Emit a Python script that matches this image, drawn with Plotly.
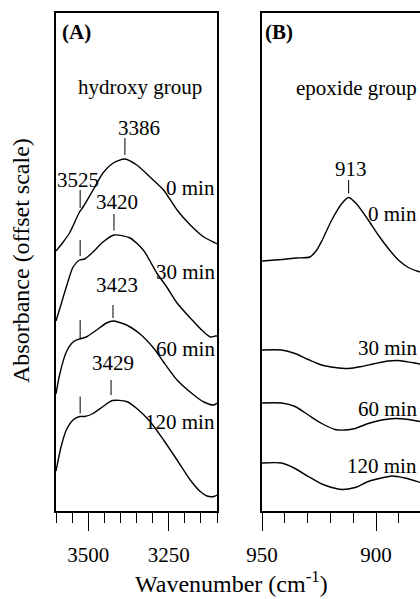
import plotly.graph_objects as go

FONT = "Liberation Serif, Times New Roman, serif"

# ---------------- Panel A : hydroxy group (offset absorbance, a.u.) ----------------
wn_a_0 = [3600, 3580, 3558, 3527, 3516, 3485, 3454, 3422, 3386, 3349, 3308, 3266, 3224, 3183, 3141, 3105, 3100]
abs_a_0 = [5.20, 5.36, 5.56, 5.98, 6.08, 6.42, 6.76, 6.96, 7.04, 6.92, 6.68, 6.42, 6.02, 5.72, 5.48, 5.36, 5.34]

wn_a_30 = [3600, 3583, 3568, 3547, 3527, 3511, 3485, 3454, 3420, 3370, 3329, 3308, 3287, 3256, 3224, 3183, 3141, 3120, 3105, 3100]
abs_a_30 = [3.80, 4.16, 4.48, 4.88, 5.02, 5.04, 5.18, 5.38, 5.52, 5.46, 5.22, 5.00, 4.76, 4.48, 4.16, 3.86, 3.58, 3.48, 3.50, 3.50]

wn_a_60 = [3600, 3589, 3568, 3547, 3527, 3506, 3474, 3443, 3423, 3381, 3339, 3297, 3266, 3224, 3172, 3141, 3110, 3100]
abs_a_60 = [2.34, 2.72, 3.18, 3.38, 3.44, 3.48, 3.62, 3.76, 3.80, 3.72, 3.54, 3.26, 2.98, 2.62, 2.32, 2.18, 2.12, 2.16]

wn_a_120 = [3600, 3584, 3568, 3547, 3527, 3511, 3485, 3454, 3425, 3381, 3349, 3308, 3266, 3224, 3183, 3152, 3131, 3110, 3100]
abs_a_120 = [0.80, 1.29, 1.62, 1.82, 1.89, 1.89, 1.95, 2.09, 2.21, 2.19, 2.05, 1.79, 1.42, 1.02, 0.62, 0.39, 0.30, 0.29, 0.32]

# ---------------- Panel B : epoxide group ----------------
wn_b_0 = [950, 941.4, 935, 929, 926, 923.8, 919.4, 915, 912, 908.5, 903.4, 899, 894.6, 890.2, 885.8, 881.4, 880.5]
abs_b_0 = [5.00, 5.03, 5.06, 5.08, 5.22, 5.40, 5.82, 6.15, 6.27, 6.14, 5.82, 5.52, 5.25, 5.02, 4.87, 4.79, 4.78]

wn_b_30 = [950, 941.4, 935.5, 929.7, 923.8, 918, 912.1, 906.3, 900.4, 894.6, 890.2, 884.3, 880.5]
abs_b_30 = [3.22, 3.22, 3.15, 3.03, 2.92, 2.87, 2.85, 2.89, 2.95, 3.00, 3.01, 2.97, 2.94]

wn_b_60 = [950, 941.4, 935.5, 929.7, 923.8, 918, 913.6, 909.2, 903.4, 897.5, 891.7, 885.8, 880.5]
abs_b_60 = [2.16, 2.16, 2.09, 1.92, 1.75, 1.63, 1.62, 1.65, 1.75, 1.82, 1.85, 1.83, 1.79]

wn_b_120 = [950, 941.4, 935.5, 929.7, 923.8, 919.4, 915, 909.2, 903.4, 897.5, 893.1, 887.3, 880.5]
abs_b_120 = [0.96, 0.96, 0.85, 0.69, 0.54, 0.47, 0.43, 0.47, 0.59, 0.66, 0.70, 0.66, 0.57]

time_labels = ["0 min", "30 min", "60 min", "120 min"]

# peak markers
peaks_a = [3386, 3420, 3423, 3429]
shoulder_a = 3525
peak_b = 913

fig = go.Figure()

line = dict(color="black", width=1.4, shape="spline", smoothing=0.7)
for wn, ab in [(wn_a_0, abs_a_0), (wn_a_30, abs_a_30), (wn_a_60, abs_a_60), (wn_a_120, abs_a_120)]:
    fig.add_trace(go.Scatter(x=wn, y=ab, mode="lines", line=line, xaxis="x", yaxis="y",
                             hoverinfo="skip", showlegend=False))
for wn, ab in [(wn_b_0, abs_b_0), (wn_b_30, abs_b_30), (wn_b_60, abs_b_60), (wn_b_120, abs_b_120)]:
    fig.add_trace(go.Scatter(x=wn, y=ab, mode="lines", line=line, xaxis="x2", yaxis="y2",
                             hoverinfo="skip", showlegend=False))

# marker ticks above peaks (vertical extents are layout positions)
tick_a_peak_y = [(7.12, 7.46), (5.61, 5.94), (3.86, 4.12), (2.32, 2.62)]
tick_a_sh_y = [(6.06, 6.42), (5.10, 5.42), (3.46, 3.82), (1.95, 2.29)]
shapes = []
for p, (y0, y1) in zip(peaks_a, tick_a_peak_y):
    shapes.append(dict(type="line", xref="x", yref="y", x0=p, x1=p, y0=y0, y1=y1,
                       line=dict(color="black", width=1)))
for (y0, y1) in tick_a_sh_y:
    shapes.append(dict(type="line", xref="x", yref="y", x0=shoulder_a, x1=shoulder_a, y0=y0, y1=y1,
                       line=dict(color="black", width=1)))
shapes.append(dict(type="line", xref="x2", yref="y2", x0=peak_b - 1, x1=peak_b - 1, y0=6.35, y1=6.62,
                   line=dict(color="black", width=1)))

tf = dict(family=FONT, size=21, color="black")
ann = []
def A(x, y, text, xref="x", yref="y", xanchor="center", yanchor="middle", size=21, bold=False, **kw):
    t = f"<b>{text}</b>" if bold else text
    ann.append(dict(x=x, y=y, xref=xref, yref=yref, text=t, showarrow=False,
                    xanchor=xanchor, yanchor=yanchor,
                    font=dict(family=FONT, size=size, color="black"), **kw))

A(3589, 9.58, "(A)", xanchor="left", bold=True)
A(3339, 8.48, "hydroxy group")
A(3342, 7.66, str(peaks_a[0]))
A(3533, 6.62, str(shoulder_a))
A(3411, 6.19, str(peaks_a[1]))
A(3411, 4.52, str(peaks_a[2]))
A(3423, 2.96, str(peaks_a[3]))
for lab, yy in zip(time_labels, [6.46, 4.79, 3.25, 1.79]):
    A(3100.5, yy, lab, xanchor="right")

A(949.4, 9.59, "(B)", xref="x2", yref="y2", xanchor="left", bold=True)
A(908.6, 8.47, "epoxide group", xref="x2", yref="y2")
A(911, 6.85, str(peak_b), xref="x2", yref="y2")
for lab, yy in zip(time_labels, [5.94, 3.27, 2.05, 0.90]):
    A(881.0, yy, lab, xref="x2", yref="y2", xanchor="right")

A(0.482, -0.1767, "Wavenumber (cm<sup>-1</sup>)", xref="paper", yref="paper", yanchor="bottom", size=24)
A(-0.0962, 0.504, "Absorbance (offset scale)", xref="paper", yref="paper", size=24, textangle=-90)

axis_common = dict(showline=True, linecolor="black", linewidth=1.6, showgrid=False, zeroline=False,
                   ticks="outside", ticklen=18, tickwidth=1.4, tickcolor="black",
                   tickfont=tf, ticklabelstandoff=6)

fig.update_layout(
    width=420, height=599,
    margin=dict(l=56, r=0, t=13, b=88),
    plot_bgcolor="white", paper_bgcolor="white",
    showlegend=False,
    xaxis=dict(**axis_common, domain=[0, 0.4423], range=[3600, 3100], mirror=True,
               tick0=3500, dtick=250,
               minor=dict(dtick=50, tick0=3500, ticklen=10, ticks="outside", tickwidth=1.4, tickcolor="black")),
    yaxis=dict(showline=True, linecolor="black", linewidth=1.6, mirror=True, showgrid=False, zeroline=False,
               showticklabels=False, ticks="", range=[0, 9.96], domain=[0, 1]),
    xaxis2=dict(**axis_common, domain=[0.566, 1], range=[950, 880.7], mirror=True, anchor="y2",
                tick0=950, dtick=50,
                minor=dict(dtick=10, tick0=950, ticklen=10, ticks="outside", tickwidth=1.4, tickcolor="black")),
    yaxis2=dict(showline=True, linecolor="black", linewidth=1.6, mirror=False, showgrid=False, zeroline=False,
                showticklabels=False, ticks="", range=[0, 9.96], domain=[0, 1], anchor="x2"),
    shapes=shapes,
    annotations=ann,
)

fig.write_html("out.html", config={"displayModeBar": False},
               post_script="document.body.style.margin='0';document.body.style.padding='0';"
                           "document.body.style.overflow='hidden';")
